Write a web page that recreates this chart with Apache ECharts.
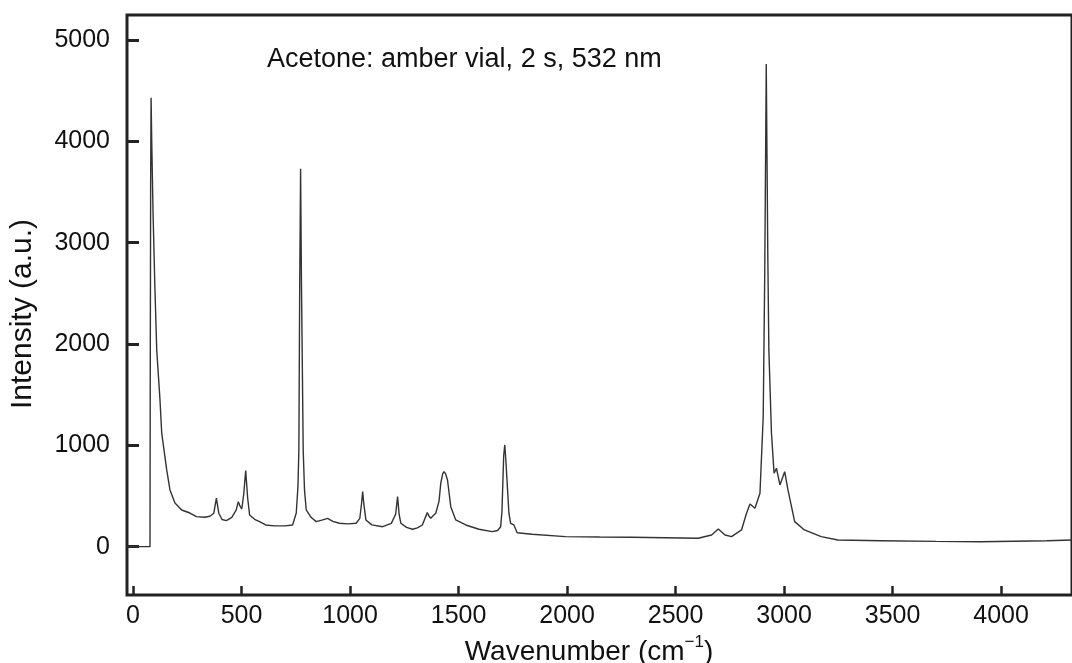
<!DOCTYPE html>
<html>
<head>
<meta charset="utf-8">
<script src="https://cdn.jsdelivr.net/npm/echarts@6/dist/echarts.min.js"></script>
<style>
html,body{margin:0;padding:0;background:#fff;}
#chart{width:1072px;height:663px;}
</style>
</head>
<body>
<div id="chart"></div>
<script>
// Raman spectrum of acetone
const wavenumber = [-28, 0, 40, 78, 79, 81, 83, 86, 92, 100, 109, 124, 132, 155, 170, 193, 224, 262, 292, 330, 354, 372, 384, 395, 410, 430, 455, 475, 485, 493, 501, 510, 519, 528, 537, 560, 583, 611, 650, 700, 735, 752, 760, 764, 768, 772, 776, 784, 790, 798, 820, 844, 870, 897, 920, 951, 990, 1028, 1045, 1053, 1058, 1063, 1073, 1100, 1150, 1190, 1210, 1219, 1226, 1234, 1260, 1288, 1310, 1333, 1356, 1364, 1372, 1385, 1395, 1410, 1418, 1427, 1433, 1440, 1449, 1458, 1464, 1487, 1533, 1594, 1655, 1680, 1694, 1700, 1704, 1708, 1713, 1718, 1724, 1732, 1740, 1755, 1770, 1839, 1992, 2150, 2298, 2450, 2604, 2666, 2697, 2728, 2758, 2804, 2827, 2843, 2866, 2889, 2904, 2911, 2918, 2925, 2930, 2942, 2954, 2965, 2981, 3003, 3018, 3049, 3094, 3171, 3248, 3447, 3700, 3906, 4212, 4327];
const intensity  = [0, 0, 0, 0, 1500, 3600, 4430, 4000, 3300, 2600, 1940, 1450, 1120, 757, 560, 431, 362, 332, 296, 290, 300, 330, 480, 330, 268, 257, 290, 360, 444, 400, 372, 520, 750, 480, 313, 270, 247, 214, 205, 205, 214, 333, 600, 955, 2600, 3730, 2600, 955, 560, 362, 290, 247, 262, 280, 250, 231, 225, 231, 280, 430, 543, 430, 264, 215, 197, 230, 320, 494, 320, 231, 190, 172, 185, 214, 336, 300, 280, 310, 330, 450, 626, 720, 740, 720, 658, 500, 395, 264, 214, 172, 148, 160, 197, 350, 626, 900, 1004, 850, 626, 330, 231, 214, 138, 122, 99, 95, 93, 88, 83, 115, 175, 115, 99, 165, 330, 422, 379, 527, 1283, 2700, 4764, 2900, 1942, 1122, 725, 774, 609, 740, 560, 247, 165, 99, 66, 59, 52, 49, 59, 66];

const xTicks = [0, 500, 1000, 1500, 2000, 2500, 3000, 3500, 4000];
const yTicks = [0, 1000, 2000, 3000, 4000, 5000];

const chartTitle = 'Acetone: amber vial, 2 s, 532 nm';
const xName = 'Wavenumber (cm';
const xNameSup = '\u22121';
const yName = 'Intensity (a.u.)';

const seriesData = wavenumber.map((w, i) => [w, intensity[i]]);

const chart = echarts.init(document.getElementById('chart'), null, {renderer: 'canvas'});
const FONT = '"Liberation Sans", Arial, Helvetica, sans-serif';
const INK = '#111';

chart.setOption({
  animation: false,
  backgroundColor: '#ffffff',
  grid: {
    left: 127, top: 15, right: -3, bottom: 68,
    show: true, borderColor: '#222', borderWidth: 3, backgroundColor: 'transparent'
  },
  title: {
    text: chartTitle,
    left: 262, top: 41,
    textStyle: {fontFamily: FONT, fontSize: 27, fontWeight: 'normal', color: INK}
  },
  xAxis: {
    type: 'value', min: -28, max: 4327,
    axisLine: {show: false, onZero: false},
    splitLine: {show: false},
    axisTick: {show: true, inside: true, length: 9, customValues: xTicks, lineStyle: {color: '#222', width: 2.5}},
    axisLabel: {show: true, customValues: xTicks, margin: 9, fontFamily: FONT, fontSize: 25, color: INK,
      formatter: v => String(v)}
  },
  yAxis: {
    type: 'value', min: -477, max: 5247,
    axisLine: {show: false, onZero: false},
    splitLine: {show: false},
    axisTick: {show: true, inside: true, length: 12, customValues: yTicks, lineStyle: {color: '#222', width: 3}},
    axisLabel: {show: true, customValues: yTicks, margin: 17, fontFamily: FONT, fontSize: 25, color: INK,
      formatter: v => String(v)}
  },
  graphic: [
    {
      type: 'text', x: 589, y: 650,
      style: {
        text: '{a|' + xName + '}{s|' + xNameSup + '}{a|)}',
        align: 'center', verticalAlign: 'middle',
        rich: {
          a: {fontFamily: FONT, fontSize: 28, fill: INK, verticalAlign: 'bottom', lineHeight: 32},
          s: {fontFamily: FONT, fontSize: 17, fill: INK, verticalAlign: 'top', lineHeight: 32}
        }
      }
    },
    {
      type: 'text', x: 23, y: 314, rotation: Math.PI / 2,
      style: {
        text: yName, align: 'center', verticalAlign: 'middle',
        font: '30px ' + FONT, fill: INK
      }
    }
  ],
  series: [{
    type: 'line',
    data: seriesData,
    showSymbol: false,
    symbol: 'none',
    lineStyle: {color: '#333', width: 1.4},
    clip: true
  }]
});
</script>
</body>
</html>
